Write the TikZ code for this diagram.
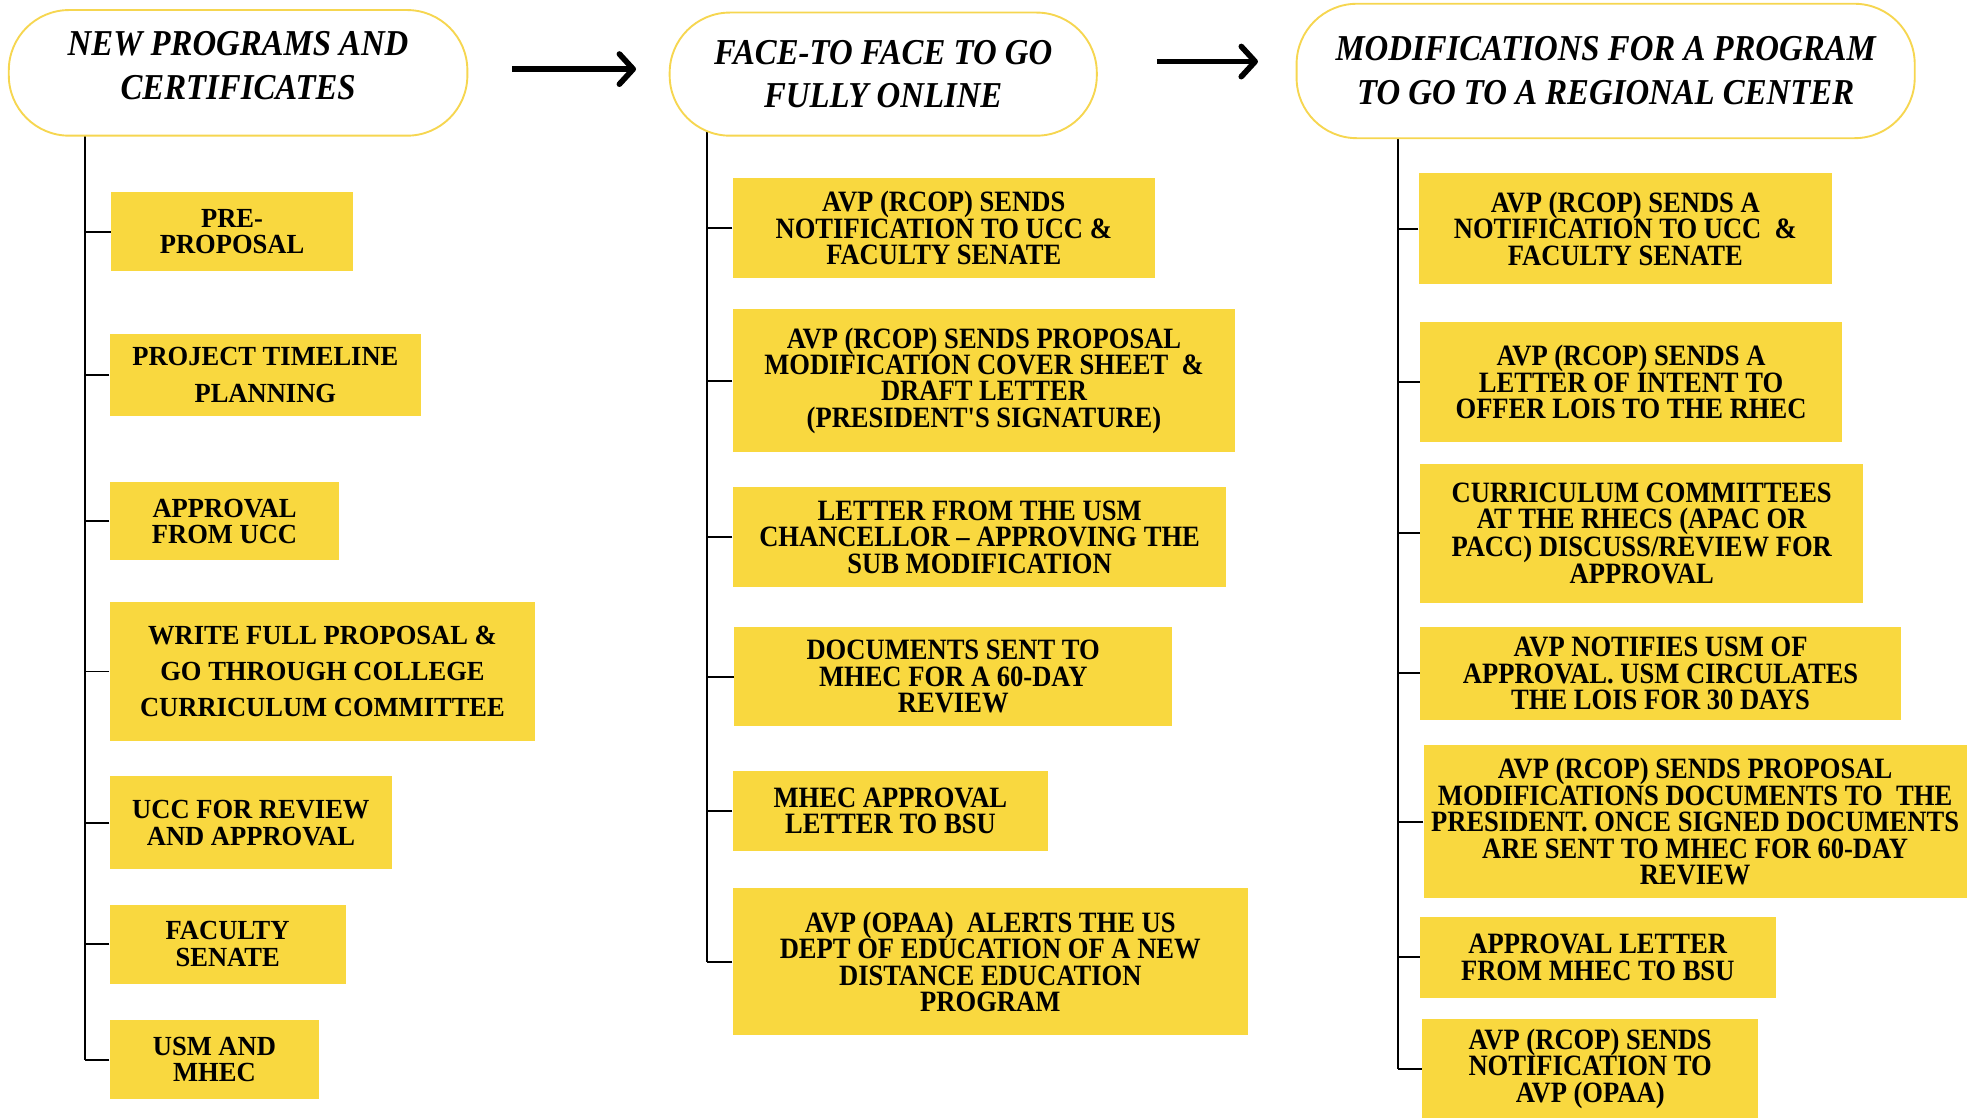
\documentclass[tikz,border=0pt]{standalone}
\usepackage{fontspec}
\setmainfont{Liberation Serif}
\newfontfamily\stepfont{Liberation Serif}[FakeStretch=0.9]
\newfontfamily\widefont{Liberation Serif}[FakeStretch=0.96]
\newfontfamily\headfont{Liberation Serif}[FakeStretch=0.9]
\usetikzlibrary{arrows.meta, backgrounds}
\definecolor{gold}{RGB}{249,216,63}
\definecolor{rim}{RGB}{246,214,80}

\begin{document}
\begin{tikzpicture}[x=1pt, y=-1pt,
    head/.style={draw=rim, line width=1.5pt, fill=white, rounded corners=48pt, inner sep=0pt, align=center,
      font=\headfont\bfseries\itshape\fontsize{29}{35}\selectfont},
    stepbox/.style={fill=gold, anchor=west, inner sep=0pt, align=center,
      font=\stepfont\bfseries\fontsize{23.5}{21}\selectfont},
    leftbox/.style={stepbox, font=\widefont\bfseries\fontsize{22}{21}\selectfont},
    spine/.style={line width=1.5pt},
    flow/.style={line width=4.5pt, -{Straight Barb[length=11pt, width=24pt, round]}}]
        \useasboundingbox (0,0) rectangle (1568,890);
        \node[head, minimum width=365pt, minimum height=100pt] (h1) at (189.5,58) {NEW PROGRAMS AND\\CERTIFICATES\\[-23pt]\mbox{}};
        \node[head, minimum width=340pt, minimum height=98pt] (h2) at (703,59) {FACE-TO FACE TO GO\\FULLY ONLINE};
        \node[head, minimum width=492pt, minimum height=107pt] (h3) at (1278,56.5) {MODIFICATIONS FOR A PROGRAM\\TO GO TO A REGIONAL CENTER};
        \draw[flow] ([xshift=35pt, yshift=3pt]h1.east) -- ([xshift=-26pt, yshift=4pt]h2.west);
        \draw[flow] ([xshift=47pt, yshift=10pt]h2.east) -- ([xshift=-30pt, yshift=7.5pt]h3.west);

        \node[leftbox, minimum width=193pt, minimum height=63pt] (l1) at (88,184.5) {PRE-\\PROPOSAL};
        \node[leftbox, minimum width=248pt, minimum height=65pt] (l2) at (87,298.5) {PROJECT TIMELINE\\[8pt]PLANNING};
        \node[leftbox, minimum width=183pt, minimum height=62pt] (l3) at (87,415) {APPROVAL\\FROM UCC};
        \node[leftbox, minimum width=339pt, minimum height=111pt] (l4) at (87,534.5) {WRITE FULL PROPOSAL \&\\[7.5pt]GO THROUGH COLLEGE\\[7.5pt]CURRICULUM COMMITTEE};
        \node[leftbox, minimum width=225pt, minimum height=74pt] (l5) at (87,655) {UCC FOR REVIEW\\AND APPROVAL};
        \node[leftbox, minimum width=188pt, minimum height=63pt] (l6) at (87,751.5) {FACULTY\\SENATE};
        \node[leftbox, minimum width=167pt, minimum height=63pt] (l7) at (87,843.5) {USM AND\\MHEC};

        \node[stepbox, minimum width=336pt, minimum height=79pt] (m1) at (583,181.5) {AVP (RCOP) SENDS\\NOTIFICATION TO UCC \&\\FACULTY SENATE};
        \node[stepbox, minimum width=400pt, minimum height=114pt] (m2) at (583,303) {AVP (RCOP) SENDS PROPOSAL\\MODIFICATION COVER SHEET \ \&\\DRAFT LETTER\\(PRESIDENT'S SIGNATURE)};
        \node[stepbox, minimum width=393pt, minimum height=79pt] (m3) at (583,427.5) {LETTER FROM THE USM\\CHANCELLOR – APPROVING THE\\SUB MODIFICATION};
        \node[stepbox, minimum width=349pt, minimum height=79pt] (m4) at (584,538.5) {DOCUMENTS SENT TO\\MHEC FOR A 60-DAY\\REVIEW};
        \node[stepbox, minimum width=251pt, minimum height=63pt] (m5) at (583,645.5) {MHEC APPROVAL\\LETTER TO BSU};
        \node[stepbox, minimum width=410pt, minimum height=117pt] (m6) at (583,765.5) {AVP (OPAA) \ ALERTS THE US\\DEPT OF EDUCATION OF A NEW\\DISTANCE EDUCATION\\PROGRAM};

        \node[stepbox, minimum width=329pt, minimum height=88pt] (r1) at (1129,182) {AVP (RCOP) SENDS A\\NOTIFICATION TO UCC \ \&\\FACULTY SENATE};
        \node[stepbox, minimum width=336pt, minimum height=96pt] (r2) at (1130,304) {AVP (RCOP) SENDS A\\LETTER OF INTENT TO\\OFFER LOIS TO THE RHEC};
        \node[stepbox, minimum width=353pt, minimum height=111pt] (r3) at (1130,424.5) {CURRICULUM COMMITTEES\\AT THE RHECS (APAC OR\\PACC) DISCUSS/REVIEW FOR\\APPROVAL};
        \node[stepbox, minimum width=383pt, minimum height=74pt] (r4) at (1130,536) {AVP NOTIFIES USM OF\\APPROVAL. USM CIRCULATES\\THE LOIS FOR 30 DAYS};
        \node[stepbox, minimum width=432pt, minimum height=122pt] (r5) at (1133,654) {AVP (RCOP) SENDS PROPOSAL\\MODIFICATIONS DOCUMENTS TO \ THE\\PRESIDENT. ONCE SIGNED DOCUMENTS\\ARE SENT TO MHEC FOR 60-DAY\\REVIEW};
        \node[stepbox, minimum width=283pt, minimum height=64pt] (r6) at (1130,762) {APPROVAL LETTER\\FROM MHEC TO BSU};
        \node[stepbox, minimum width=267pt, minimum height=79pt] (r7) at (1132,850.5) {AVP (RCOP) SENDS\\NOTIFICATION TO\\AVP (OPAA)};

        \begin{scope}[on background layer]
        \coordinate (s1) at (68,58);
        \coordinate (s2) at (563,59);
        \coordinate (s3) at (1113,56);
        \draw[spine] (s1) -- (s1 |- l7.west);
        \draw[spine] (s2) -- (s2 |- m6.west);
        \draw[spine] (s3) -- (s3 |- r7.west);
        \foreach \i in {1,...,7}
        \draw[spine] (l\i.west) -- (l\i.west -| s1);
        \foreach \i in {1,...,6}
        \draw[spine] (m\i.west) -- (m\i.west -| s2);
        \foreach \i in {1,...,7}
        \draw[spine] (r\i.west) -- (r\i.west -| s3);
        \end{scope}
\end{tikzpicture}
\end{document}
